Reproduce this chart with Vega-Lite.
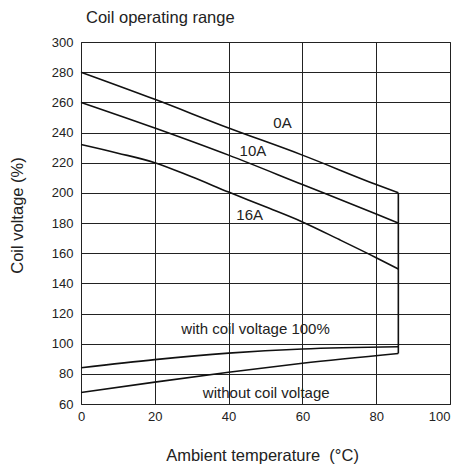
{
  "$schema": "https://vega.github.io/schema/vega-lite/v6.json",
  "width": 369,
  "height": 362,
  "autosize": "none",
  "padding": {"left": 81, "top": 42, "right": 6, "bottom": 66},
  "background": "white",
  "config": {
    "font": "Liberation Sans",
    "view": {"stroke": "#222", "strokeWidth": 1},
    "axis": {
      "gridColor": "#222", "gridOpacity": 1, "gridWidth": 1,
      "domain": false, "ticks": false, "labelOverlap": false,
      "labelFontSize": 13, "labelColor": "#222",
      "titleFontSize": 16.5, "titleFontWeight": "normal", "titleColor": "#222"
    }
  },
  "title": {
    "text": "Coil operating range",
    "anchor": "start", "frame": "group", "dx": 5, "offset": -3,
    "fontSize": 16.5, "fontWeight": "normal", "color": "#222", "baseline": "alphabetic"
  },
  "datasets": {
    "curves": [
      {"series": "0A", "t": 0, "v": 280},
      {"series": "0A", "t": 20, "v": 262},
      {"series": "0A", "t": 40, "v": 243},
      {"series": "0A", "t": 60, "v": 225},
      {"series": "0A", "t": 80, "v": 205.5},
      {"series": "0A", "t": 86, "v": 200},
      {"series": "10A", "t": 0, "v": 260},
      {"series": "10A", "t": 20, "v": 243},
      {"series": "10A", "t": 40, "v": 225},
      {"series": "10A", "t": 60, "v": 205.5},
      {"series": "10A", "t": 80, "v": 186},
      {"series": "10A", "t": 86, "v": 180},
      {"series": "16A", "t": 0, "v": 232},
      {"series": "16A", "t": 10, "v": 226.3},
      {"series": "16A", "t": 20, "v": 220},
      {"series": "16A", "t": 30, "v": 210.6},
      {"series": "16A", "t": 40, "v": 200.5},
      {"series": "16A", "t": 50, "v": 190.7},
      {"series": "16A", "t": 60, "v": 180.7},
      {"series": "16A", "t": 70, "v": 169},
      {"series": "16A", "t": 80, "v": 157},
      {"series": "16A", "t": 86, "v": 149.5},
      {"series": "with", "t": 0, "v": 84},
      {"series": "with", "t": 20, "v": 89.4},
      {"series": "with", "t": 40, "v": 93.7},
      {"series": "with", "t": 60, "v": 96.5},
      {"series": "with", "t": 86, "v": 98},
      {"series": "without", "t": 0, "v": 67.6},
      {"series": "without", "t": 20, "v": 74.5},
      {"series": "without", "t": 40, "v": 81},
      {"series": "without", "t": 60, "v": 87},
      {"series": "without", "t": 86, "v": 93.5},
      {"series": "edge", "t": 86, "v": 200},
      {"series": "edge", "t": 86, "v": 93.5}
    ],
    "labels": [
      {"t": 54.6, "v": 246, "label": "0A"},
      {"t": 46.6, "v": 228, "label": "10A"},
      {"t": 45.7, "v": 185, "label": "16A"},
      {"t": 47.3, "v": 109.5, "label": "with coil voltage 100%"},
      {"t": 50.2, "v": 67.4, "label": "without coil voltage"}
    ]
  },
  "layer": [
    {
      "data": {"name": "curves"},
      "mark": {"type": "line", "color": "#111", "strokeWidth": 1.6, "interpolate": "monotone"},
      "encoding": {
        "x": {"field": "t", "type": "quantitative", "scale": {"domain": [0, 100], "nice": false},
              "axis": {"values": [0, 20, 40, 60, 80, 100], "tickCount": 6, "labelOverlap": false, "labelFlush": false,
                       "labelAlign": {"expr": "datum.value == 100 ? 'right' : 'center'"},
                       "labelPadding": 6, "title": "Ambient temperature\u00a0 (°C)", "titlePadding": 24, "titleX": 181}},
        "y": {"field": "v", "type": "quantitative", "scale": {"domain": [60, 300], "nice": false, "zero": false},
              "axis": {"values": [60, 80, 100, 120, 140, 160, 180, 200, 220, 240, 260, 280, 300], "tickCount": 13, "labelOverlap": false, "labelFlush": false, "labelPadding": 8, "title": "Coil voltage (%)", "titlePadding": 26, "titleY": 173}},
        "detail": {"field": "series"}
      }
    },
    {
      "data": {"name": "labels"},
      "mark": {"type": "text", "fontSize": 15, "color": "#222"},
      "encoding": {
        "x": {"field": "t", "type": "quantitative"},
        "y": {"field": "v", "type": "quantitative"},
        "text": {"field": "label"}
      }
    }
  ]
}
